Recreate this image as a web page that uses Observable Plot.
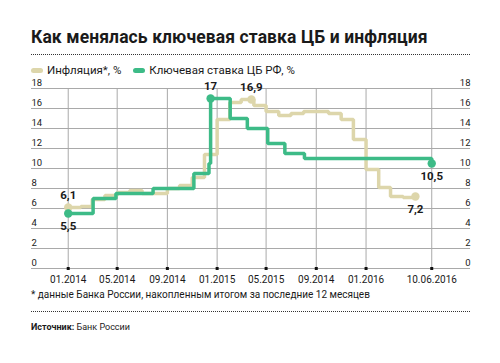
<!DOCTYPE html>
<html>
<head>
<meta charset="utf-8">
<script src="https://cdn.jsdelivr.net/npm/d3@7"></script>
<script src="https://cdn.jsdelivr.net/npm/@observablehq/plot@0.6"></script>
<style>
  html, body { margin: 0; padding: 0; background: #fff; }
  body { width: 500px; height: 363px; position: relative; font-family: Roboto, "Noto Sans", sans-serif; color: #1a1a1a; overflow: hidden; }
  .abs { position: absolute; white-space: nowrap; }
  #title { left: 31px; top: 28px; font-size: 17.5px; font-weight: 700; line-height: 18px; letter-spacing: 0.1px; }
  .dots { left: 31px; width: 439px; height: 0; border-top: 1.6px dotted #333; }
  #legend { left: 31px; top: 63px; font-size: 11.5px; line-height: 14px; display: flex; align-items: center; }
  .sw { display: inline-block; width: 12px; height: 5px; border-radius: 3px; margin-right: 4px; }
  .item { display: flex; align-items: center; margin-right: 12px; }
  #chart { left: 0; top: 75px; }
  #note { left: 31px; top: 288px; font-size: 10px; line-height: 14px; }
  #source { left: 31px; top: 321px; font-size: 9px; line-height: 12px; }
</style>
</head>
<body>
<div id="title" class="abs"></div>
<div class="abs dots" style="top:54px"></div>
<div id="legend" class="abs"></div>
<div id="chart" class="abs"></div>
<div id="note" class="abs"></div>
<div class="abs dots" style="top:311px"></div>
<div id="source" class="abs"><b>Источник:</b> Банк России</div>
<script>
// ---- data ----
const titleText = "Как менялась ключевая ставка ЦБ и инфляция";
const seriesNames = ["Инфляция*, %", "Ключевая ставка ЦБ РФ, %"];
const seriesColors = ["#ddd6ab", "#3dbb87"];
const noteText = "* данные Банка России, накопленным итогом за последние 12 месяцев";

// Inflation, monthly (month start)
const inflDates = ["2014-01-01","2014-02-01","2014-03-01","2014-04-01","2014-05-01","2014-06-01","2014-07-01","2014-08-01","2014-09-01","2014-10-01","2014-11-01","2014-12-01",
  "2015-01-01","2015-02-01","2015-03-01","2015-04-01","2015-05-01","2015-06-01","2015-07-01","2015-08-01","2015-09-01","2015-10-01","2015-11-01","2015-12-01",
  "2016-01-01","2016-02-01","2016-03-01","2016-04-01","2016-05-01"];
const inflValues = [6.1,6.2,6.9,7.3,7.6,7.8,7.5,7.5,8.0,8.3,9.1,11.4,
  14.9,16.6,16.9,16.3,15.7,15.3,15.5,15.7,15.7,15.5,14.9,12.9,
  9.9,8.1,7.2,7.1,7.2];

// Key rate, change dates
const rateDates = ["2014-01-01","2014-03-03","2014-04-28","2014-07-28","2014-11-05","2014-12-12","2014-12-16","2015-02-02","2015-03-16","2015-05-05","2015-06-16","2015-08-03","2016-06-10"];
const rateValues = [5.5,7.0,7.5,8.0,9.5,10.5,17.0,15.0,14.0,12.5,11.5,11.0,10.5];

// Highlighted points: date, value, label, label position
const inflPoints = [["2014-01-01", 6.1, "6,1", "above"], ["2015-03-26", 16.9, "16,9", "above"], ["2016-05-01", 7.2, "7,2", "below"]];
const ratePoints = [["2014-01-01", 5.5, "5,5", "below"], ["2014-12-16", 17, "17", "above"], ["2016-06-10", 10.5, "10,5", "below"]];

// Axis ticks
const xTickDates = ["2014-01-01","2014-05-01","2014-09-01","2015-01-01","2015-05-01","2015-09-01","2016-01-01","2016-06-10"];
const xTickLabels = ["01.2014","05.2014","09.2014","01.2015","05.2015","09.2014","01.2016","10.06.2016"];
const yTicks = [0,2,4,6,8,10,12,14,16,18];
const xDomain = ["2013-10-03","2016-09-13"];

// ---- build ----
const P = d3.utcParse("%Y-%m-%d");
const infl = inflDates.map((d, i) => ({date: P(d), value: inflValues[i]}));
const rate = rateDates.map((d, i) => ({date: P(d), value: rateValues[i]}));
const toPt = ([d, v, l, p]) => ({date: P(d), value: v, label: l, pos: p});
const inflPts = inflPoints.map(toPt);
const ratePts = ratePoints.map(toPt);
const allPts = inflPts.concat(ratePts);
const xTicks = xTickDates.map(P);
const labelFor = new Map(xTicks.map((d, i) => [+d, xTickLabels[i]]));

document.getElementById("title").textContent = titleText;
document.getElementById("note").textContent = noteText;
document.getElementById("legend").innerHTML = seriesNames.map((n, i) =>
  `<span class="item"><span class="sw" style="background:${seriesColors[i]}"></span>${n}</span>`).join("");

const grid = "#a9a9a9";
const labelStyle = {x: "date", y: "value", text: "label", fontSize: 11.5, fontWeight: 700, fill: "#1a1a1a"};
const chart = Plot.plot({
  width: 500,
  height: 215,
  marginTop: 13,
  marginBottom: 22,
  marginLeft: 31,
  marginRight: 30,
  style: {fontFamily: "Roboto, sans-serif", color: "#1a1a1a", background: "transparent"},
  x: {type: "utc", domain: xDomain.map(P)},
  y: {domain: [0, 18]},
  marks: [
    Plot.gridY(yTicks, {stroke: grid, strokeOpacity: 1, strokeWidth: 1}),
    Plot.gridX(xTicks, {stroke: grid, strokeOpacity: 1, strokeWidth: 1}),
    Plot.axisY(yTicks, {anchor: "left", tickSize: 0, tickPadding: 0, textAnchor: "start", dy: -6, fontSize: 9.5, label: null}),
    Plot.axisY(yTicks, {anchor: "right", tickSize: 0, tickPadding: 0, textAnchor: "end", dy: -6, fontSize: 9.5, label: null}),
    Plot.axisX(xTicks, {tickSize: 0, tickPadding: 7, fontSize: 10, label: null, tickFormat: d => labelFor.get(+d)}),
    Plot.dot(xTicks, {x: d => d, frameAnchor: "bottom", symbol: "square", r: 1.7, fill: "#111"}),
    Plot.line(infl, {x: "date", y: "value", curve: "step-after", stroke: seriesColors[0], strokeWidth: 3.5, strokeLinejoin: "miter"}),
    Plot.line(rate, {x: "date", y: "value", curve: "step-after", stroke: seriesColors[1], strokeWidth: 3.5, strokeLinejoin: "miter"}),
    Plot.dot(inflPts, {x: "date", y: "value", r: 4.2, fill: seriesColors[0]}),
    Plot.dot(ratePts, {x: "date", y: "value", r: 4.2, fill: seriesColors[1]}),
    Plot.text(allPts, {...labelStyle, filter: d => d.pos === "above", dy: -12}),
    Plot.text(allPts, {...labelStyle, filter: d => d.pos === "below", dy: 13})
  ]
});
document.getElementById("chart").appendChild(chart);
</script>
</body>
</html>
